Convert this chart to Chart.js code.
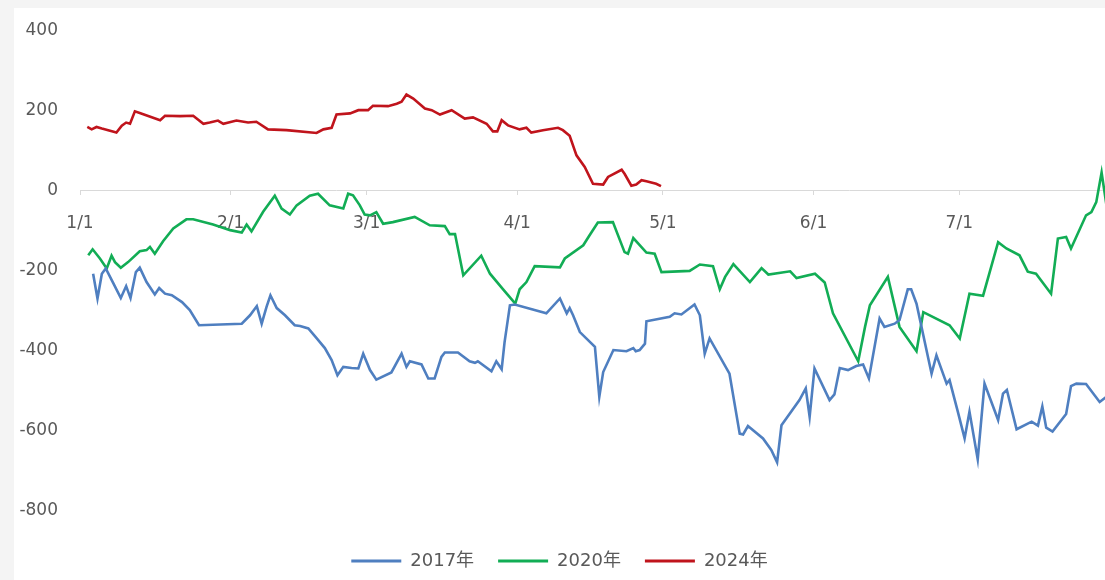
<!DOCTYPE html>
<html><head><meta charset="utf-8">
<script src="https://cdn.jsdelivr.net/npm/chart.js@4/dist/chart.umd.min.js"></script>
<style>
html,body{margin:0;padding:0;background:#f4f4f4;overflow:hidden;}
#wrap{position:absolute;left:14px;top:8px;width:1091px;height:572px;background:#ffffff;}
</style></head><body>
<div id="wrap"><canvas id="c" width="1091" height="572"></canvas></div>
<script>
// x = day of year (0 = 1/1), y = value
const seriesNames = ['2017年', '2020年', '2024年'];
const seriesColors = ['#4f7fc0', '#12ad55', '#c0141c'];

const days2017 = [2.7,3.6,4.5,5.3,6.9,8.4,9.5,10.4,11.5,12.3,13.7,15.4,16.3,17.5,18.9,21,22.6,24.5,33.3,35,36.4,37.4,38.4,39.2,40.5,42.2,44.2,45.3,47,48.7,50.4,51.8,53,54.2,55.9,57.3,58.3,59.7,61,64.1,66.2,67.2,67.9,70.3,71.7,73,74.4,75.1,77.8,80.2,81.3,81.9,84.7,85.7,86.8,87.4,88.5,89.5,96,98.8,100.2,100.8,101.5,102.9,106,106.9,107.7,109.8,112.5,113.9,114.4,115.2,116.3,116.6,121.4,122.4,123.8,126.5,127.6,128.6,129.6,133.7,135.8,136.5,137.5,140.6,142.3,143.5,144.4,148.1,149.4,150.2,151.2,154.3,155.3,156.4,158.1,159.8,161.2,162.4,164.6,165.6,167.7,168.7,170.4,171.1,172.2,175.3,176.3,178.4,179,180.7,182.1,183.1,184.8,186.2,189,190,190.8,192.8,195.9,197.2,198.1,198.9,200.2,203,204,205.1,207.1,209.9,211.3];
const vals2017 = [-207,-269,-207,-194,-232,-268,-238,-268,-203,-192,-228,-259,-243,-257,-261,-278,-298,-336,-332,-311,-288,-332,-290,-261,-293,-311,-336,-338,-344,-368,-393,-423,-461,-440,-443,-444,-407,-448,-472,-454,-407,-440,-426,-434,-469,-469,-415,-404,-404,-426,-430,-426,-451,-426,-446,-378,-286,-284,-306,-269,-306,-293,-311,-353,-390,-515,-453,-398,-401,-393,-401,-398,-382,-326,-315,-306,-309,-284,-311,-407,-369,-457,-607,-609,-588,-619,-648,-679,-586,-523,-494,-565,-444,-523,-509,-443,-448,-438,-434,-469,-319,-340,-332,-323,-246,-246,-282,-457,-411,-482,-473,-552,-619,-552,-671,-482,-573,-507,-498,-596,-577,-587,-539,-592,-602,-558,-488,-482,-483,-528,-515];

const days2020 = [1.7,2.6,4.1,5.5,6.5,7.2,8.4,9.9,12.3,13.7,14.4,15.4,17.1,19.2,21.9,23.3,27.4,30.9,33.3,34.3,35.3,37.7,40.1,41.5,43.2,44.6,47.3,49,51.4,54.2,55.2,56.2,57.6,58.6,59.7,61,62.4,64.4,68.9,72,75.1,76.1,77.2,78.9,82.6,84.4,87.1,89.6,90.5,91.9,93.6,98.8,99.8,103.6,104.9,106.6,109.7,112.1,112.8,113.9,116.6,118.3,119.7,125.5,127.6,130.3,131.7,132.8,134.5,137.9,140.3,141.7,146.2,147.5,151.3,153.3,155,160.2,161.6,162.6,166.3,168.7,172.2,173.6,179,181.1,183.1,185.9,189,190.7,193.4,195.1,196.8,199.9,201.3,203,204,207.1,208.2,209.2,210.3,211.3];
const vals2020 = [-161,-146,-169,-194,-162,-178,-192,-178,-151,-148,-140,-157,-126,-94,-71,-71,-84,-98,-104,-84,-101,-52,-12,-44,-59,-36,-12,-7,-36,-44,-7,-11,-36,-59,-61,-53,-82,-78,-65,-86,-88,-108,-108,-211,-162,-207,-246,-282,-246,-228,-188,-191,-169,-136,-111,-79,-78,-153,-157,-118,-154,-157,-203,-200,-184,-188,-246,-215,-183,-228,-193,-209,-201,-218,-207,-229,-306,-426,-340,-286,-215,-340,-401,-303,-336,-369,-257,-262,-128,-144,-161,-202,-207,-257,-119,-115,-144,-61,-53,-28,46,-36];

const days2024 = [1.5,2.4,3.4,4.5,7.5,8.6,9.5,10.3,11.3,12.3,16.5,17.5,20.6,23.3,25.4,26.7,28.4,29.5,32.2,34.6,36.3,38.7,42.5,48.7,50.1,51.8,52.8,55.6,57.3,59.3,60.3,63.4,65.2,66.2,67.2,68.6,71,72.4,74.1,76.5,79.2,80.9,83.7,85,85.9,86.8,88.1,90.5,91.9,92.9,95.3,98.4,99.4,100.8,102.2,103.9,105.6,107.7,108.7,111.5,112.1,113.5,114.5,115.6,116.6,118.6,119.6];
const vals2024 = [160,154,160,156,146,163,171,168,199,195,177,188,187,188,168,171,176,168,176,171,173,154,152,145,154,158,191,194,202,202,213,212,218,223,241,231,206,202,191,202,181,184,168,149,149,177,164,154,158,146,152,158,152,138,89,60,18,16,35,53,43,13,16,27,24,18,12];

const monthTickDays = [0, 31, 59, 90, 120, 151, 181];
const monthTickLabels = ['1/1', '2/1', '3/1', '4/1', '5/1', '6/1', '7/1'];
const yTickValues = [400, 200, 0, -200, -400, -600, -800];

const FONT = '"DejaVu Sans", "Noto Sans CJK SC", sans-serif';
const TEXT = '#595959';

function pts(d, v) { return d.map((x, i) => ({x: x, y: v[i]})); }
const allDays = [days2017, days2020, days2024];
const allVals = [vals2017, vals2020, vals2024];

const datasets = seriesNames.map((name, i) => ({
  label: name,
  data: pts(allDays[i], allVals[i]),
  borderColor: seriesColors[i],
  backgroundColor: seriesColors[i],
  borderWidth: 2.6,
  pointRadius: 0,
  tension: 0,
  fill: false
}));

new Chart(document.getElementById('c'), {
  type: 'line',
  data: {datasets: datasets},
  options: {
    responsive: false,
    animation: false,
    layout: {padding: {top: 23, right: 0, bottom: 0, left: 0}},
    plugins: {
      tooltip: {enabled: false},
      legend: {
        position: 'bottom',
        title: {display: true, text: '', font: {size: 1}, padding: {top: 0, bottom: 16}},
        labels: {
          boxWidth: 50, boxHeight: 3, padding: 24, color: TEXT,
          font: {size: 18, family: FONT},
          generateLabels: function(chart) {
            const items = Chart.defaults.plugins.legend.labels.generateLabels(chart);
            items.forEach(it => { it.lineWidth = 0; it.strokeStyle = 'rgba(0,0,0,0)'; });
            return items;
          }
        }
      }
    },
    scales: {
      x: {
        type: 'linear', min: 0, max: 211,
        position: {y: 0},
        afterBuildTicks: s => { s.ticks = monthTickDays.map(v => ({value: v})); },
        ticks: {
          autoSkip: false, maxRotation: 0, padding: 18, color: TEXT,
          font: {size: 17, family: FONT},
          callback: (v, i) => monthTickLabels[i]
        },
        grid: {drawOnChartArea: false, drawTicks: true, tickLength: 4, color: '#d9d9d9'},
        border: {display: true, color: '#d9d9d9', width: 1}
      },
      y: {
        type: 'linear', min: -800, max: 400,
        afterBuildTicks: s => { s.ticks = yTickValues.map(v => ({value: v})); },
        afterFit: s => { s.width = 66; },
        ticks: {padding: 0, color: TEXT, font: {size: 17, family: FONT}},
        grid: {display: false, drawTicks: true, tickLength: 22},
        border: {display: false}
      }
    }
  }
});
</script>
</body></html>
